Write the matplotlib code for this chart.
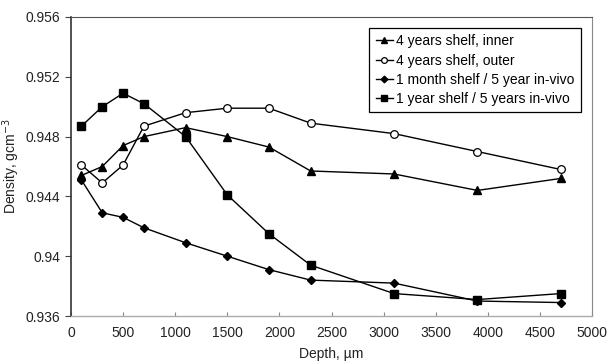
import matplotlib
matplotlib.use("Agg")
import matplotlib.pyplot as plt
from matplotlib.ticker import FixedLocator

plt.rcParams['font.family'] = ['Liberation Sans', 'DejaVu Sans']

depth = [100, 300, 500, 700, 1100, 1500, 1900, 2300, 3100, 3900, 4700]
inner_4y = [0.9454, 0.9460, 0.9474, 0.9480, 0.9486, 0.9480, 0.9473, 0.9457, 0.9455, 0.9444, 0.9452]
outer_4y = [0.9461, 0.9449, 0.9461, 0.9487, 0.9496, 0.9499, 0.9499, 0.9489, 0.9482, 0.9470, 0.9458]
month1_5y = [0.9451, 0.9429, 0.9426, 0.9419, 0.9409, 0.9400, 0.9391, 0.9384, 0.9382, 0.9370, 0.9369]
year1_5y = [0.9487, 0.9500, 0.9509, 0.9502, 0.9480, 0.9441, 0.9415, 0.9394, 0.9375, 0.9371, 0.9375]

labels = ["4 years shelf, inner", "4 years shelf, outer",
          "1 month shelf / 5 year in-vivo", "1 year shelf / 5 years in-vivo"]

yticks = [0.936, 0.94, 0.944, 0.948, 0.952, 0.956]
ytick_labels = ["0.936", "0.94", "0.944", "0.948", "0.952", "0.956"]
xticks = [0, 500, 1000, 1500, 2000, 2500, 3000, 3500, 4000, 4500, 5000]

fig = plt.figure(figsize=(6.08, 3.64), dpi=100)
ax = fig.add_axes([71/608, 1-316/364, (592-71)/608, (316-17)/364])

lw = 1.0
ax.plot(depth, inner_4y, color='black', lw=lw, marker='^', ms=5.5, label=labels[0])
ax.plot(depth, outer_4y, color='black', lw=lw, marker='o', ms=5.5, mfc='white', mec='black', mew=0.9, label=labels[1])
ax.plot(depth, month1_5y, color='black', lw=lw, marker='D', ms=4.5, label=labels[2])
ax.plot(depth, year1_5y, color='black', lw=lw, marker='s', ms=5.5, label=labels[3])

ax.set_xlim(0, 5000)
ax.set_ylim(0.936, 0.956)
ax.xaxis.set_major_locator(FixedLocator(xticks))
ax.set_yticks(yticks)
ax.set_yticklabels(ytick_labels)
ax.tick_params(axis='both', labelsize=10, colors='#222222', length=4, width=0.8)
ax.tick_params(axis='x', direction='in', length=3, color='#888888', pad=7)
ax.tick_params(axis='y', direction='out', length=4, color='#444444', pad=4)

ax.spines['left'].set_color('#333333')
ax.spines['left'].set_linewidth(1.2)
ax.spines['bottom'].set_color('#aaaaaa')
ax.spines['bottom'].set_linewidth(1.0)
ax.spines['top'].set_color('#555555')
ax.spines['top'].set_linewidth(0.8)
ax.spines['right'].set_color('#888888')
ax.spines['right'].set_linewidth(0.8)

ax.set_xlabel("Depth, µm", fontsize=10, color='#222222', labelpad=5)
ax.set_ylabel("Density, gcm$^{-3}$", fontsize=10, color='#222222')
ax.yaxis.set_label_coords((22-71)/521, 0.5)

leg = ax.legend(loc='upper right', bbox_to_anchor=((581-71)/521, (316-28)/299),
                frameon=True, fancybox=False, framealpha=1, edgecolor='black',
                fontsize=10, handlelength=1.25, handletextpad=0.25, borderpad=0.45,
                labelspacing=0.38, borderaxespad=0, markerscale=0.75)
leg.get_frame().set_linewidth(0.9)

fig.savefig("out.png", dpi=100)
